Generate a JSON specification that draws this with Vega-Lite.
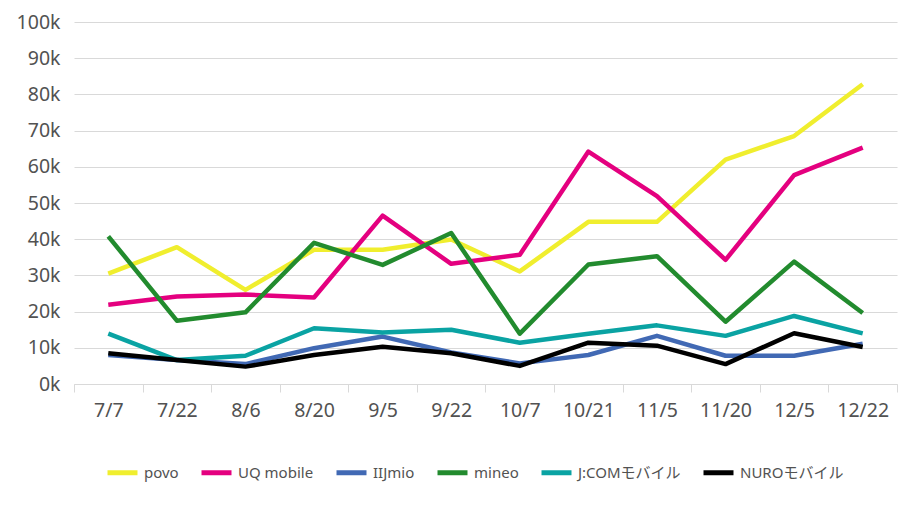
{
  "$schema": "https://vega.github.io/schema/vega-lite/v6.json",
  "width": 823,
  "height": 362,
  "autosize": {"type": "none"},
  "padding": {"left": 74, "top": 22, "right": 9, "bottom": 129},
  "background": "white",
  "data": {
    "values": [
      {"date": "7/7", "carrier": "povo", "n": 30500},
      {"date": "7/22", "carrier": "povo", "n": 37800},
      {"date": "8/6", "carrier": "povo", "n": 26000},
      {"date": "8/20", "carrier": "povo", "n": 37100},
      {"date": "9/5", "carrier": "povo", "n": 37100},
      {"date": "9/22", "carrier": "povo", "n": 39900},
      {"date": "10/7", "carrier": "povo", "n": 31100},
      {"date": "10/21", "carrier": "povo", "n": 44800},
      {"date": "11/5", "carrier": "povo", "n": 44800},
      {"date": "11/20", "carrier": "povo", "n": 62000},
      {"date": "12/5", "carrier": "povo", "n": 68500},
      {"date": "12/22", "carrier": "povo", "n": 82800},
      {"date": "7/7", "carrier": "UQ mobile", "n": 21900},
      {"date": "7/22", "carrier": "UQ mobile", "n": 24200},
      {"date": "8/6", "carrier": "UQ mobile", "n": 24700},
      {"date": "8/20", "carrier": "UQ mobile", "n": 23900},
      {"date": "9/5", "carrier": "UQ mobile", "n": 46500},
      {"date": "9/22", "carrier": "UQ mobile", "n": 33200},
      {"date": "10/7", "carrier": "UQ mobile", "n": 35700},
      {"date": "10/21", "carrier": "UQ mobile", "n": 64200},
      {"date": "11/5", "carrier": "UQ mobile", "n": 51900},
      {"date": "11/20", "carrier": "UQ mobile", "n": 34300},
      {"date": "12/5", "carrier": "UQ mobile", "n": 57700},
      {"date": "12/22", "carrier": "UQ mobile", "n": 65300},
      {"date": "7/7", "carrier": "IIJmio", "n": 8000},
      {"date": "7/22", "carrier": "IIJmio", "n": 6600},
      {"date": "8/6", "carrier": "IIJmio", "n": 5500},
      {"date": "8/20", "carrier": "IIJmio", "n": 9900},
      {"date": "9/5", "carrier": "IIJmio", "n": 13100},
      {"date": "9/22", "carrier": "IIJmio", "n": 8700},
      {"date": "10/7", "carrier": "IIJmio", "n": 5700},
      {"date": "10/21", "carrier": "IIJmio", "n": 8000},
      {"date": "11/5", "carrier": "IIJmio", "n": 13300},
      {"date": "11/20", "carrier": "IIJmio", "n": 7800},
      {"date": "12/5", "carrier": "IIJmio", "n": 7800},
      {"date": "12/22", "carrier": "IIJmio", "n": 11100},
      {"date": "7/7", "carrier": "mineo", "n": 40800},
      {"date": "7/22", "carrier": "mineo", "n": 17500},
      {"date": "8/6", "carrier": "mineo", "n": 19800},
      {"date": "8/20", "carrier": "mineo", "n": 39000},
      {"date": "9/5", "carrier": "mineo", "n": 32900},
      {"date": "9/22", "carrier": "mineo", "n": 41700},
      {"date": "10/7", "carrier": "mineo", "n": 13900},
      {"date": "10/21", "carrier": "mineo", "n": 33000},
      {"date": "11/5", "carrier": "mineo", "n": 35300},
      {"date": "11/20", "carrier": "mineo", "n": 17200},
      {"date": "12/5", "carrier": "mineo", "n": 33800},
      {"date": "12/22", "carrier": "mineo", "n": 19600},
      {"date": "7/7", "carrier": "J:COMモバイル", "n": 13900},
      {"date": "7/22", "carrier": "J:COMモバイル", "n": 6600},
      {"date": "8/6", "carrier": "J:COMモバイル", "n": 7800},
      {"date": "8/20", "carrier": "J:COMモバイル", "n": 15400},
      {"date": "9/5", "carrier": "J:COMモバイル", "n": 14200},
      {"date": "9/22", "carrier": "J:COMモバイル", "n": 15000},
      {"date": "10/7", "carrier": "J:COMモバイル", "n": 11400},
      {"date": "10/21", "carrier": "J:COMモバイル", "n": 13900},
      {"date": "11/5", "carrier": "J:COMモバイル", "n": 16200},
      {"date": "11/20", "carrier": "J:COMモバイル", "n": 13300},
      {"date": "12/5", "carrier": "J:COMモバイル", "n": 18800},
      {"date": "12/22", "carrier": "J:COMモバイル", "n": 14000},
      {"date": "7/7", "carrier": "NUROモバイル", "n": 8500},
      {"date": "7/22", "carrier": "NUROモバイル", "n": 6600},
      {"date": "8/6", "carrier": "NUROモバイル", "n": 4800},
      {"date": "8/20", "carrier": "NUROモバイル", "n": 8000},
      {"date": "9/5", "carrier": "NUROモバイル", "n": 10300},
      {"date": "9/22", "carrier": "NUROモバイル", "n": 8500},
      {"date": "10/7", "carrier": "NUROモバイル", "n": 5000},
      {"date": "10/21", "carrier": "NUROモバイル", "n": 11400},
      {"date": "11/5", "carrier": "NUROモバイル", "n": 10600},
      {"date": "11/20", "carrier": "NUROモバイル", "n": 5500},
      {"date": "12/5", "carrier": "NUROモバイル", "n": 14000},
      {"date": "12/22", "carrier": "NUROモバイル", "n": 10200}
    ]
  },
  "mark": {"type": "line", "strokeWidth": 4.5, "strokeJoin": "round"},
  "encoding": {
    "x": {
      "field": "date",
      "type": "nominal",
      "sort": ["7/7", "7/22", "8/6", "8/20", "9/5", "9/22", "10/7", "10/21", "11/5", "11/20", "12/5", "12/22"],
      "scale": {"type": "band", "paddingInner": 0, "paddingOuter": 0},
      "bandPosition": 0.5,
      "axis": {
        "title": null,
        "labelAngle": 0,
        "tickBand": "extent",
        "tickSize": 8,
        "tickColor": "#d9d9d9",
        "domainColor": "#d9d9d9",
        "labelPadding": 9,
        "grid": false
      }
    },
    "y": {
      "field": "n",
      "type": "quantitative",
      "scale": {"domain": [0, 100000]},
      "axis": {
        "title": null,
        "values": [0, 10000, 20000, 30000, 40000, 50000, 60000, 70000, 80000, 90000, 100000],
        "labelExpr": "datum.value / 1000 + 'k'",
        "domain": false,
        "ticks": false,
        "gridColor": "#d9d9d9",
        "labelPadding": 14
      }
    },
    "color": {
      "field": "carrier",
      "type": "nominal",
      "scale": {
        "domain": ["povo", "UQ mobile", "IIJmio", "mineo", "J:COMモバイル", "NUROモバイル"],
        "range": ["#f0ee2e", "#e4007f", "#4169b4", "#228b2e", "#0aa3a3", "#000000"]
      },
      "legend": {
        "title": null,
        "orient": "none",
        "legendX": 31,
        "legendY": 433,
        "direction": "horizontal",
        "symbolType": "stroke",
        "symbolSize": 900,
        "symbolStrokeWidth": 5,
        "labelFontSize": 15,
        "labelOffset": 4,
        "columnPadding": 12
      }
    }
  },
  "config": {
    "font": "Noto Sans, Noto Sans CJK JP, sans-serif",
    "view": {"stroke": null},
    "axis": {"labelFontSize": 19.5, "labelColor": "#525252", "labelFont": "Noto Sans"},
    "legend": {"labelColor": "#525252", "labelFont": "Noto Sans, Noto Sans CJK JP"}
  }
}
